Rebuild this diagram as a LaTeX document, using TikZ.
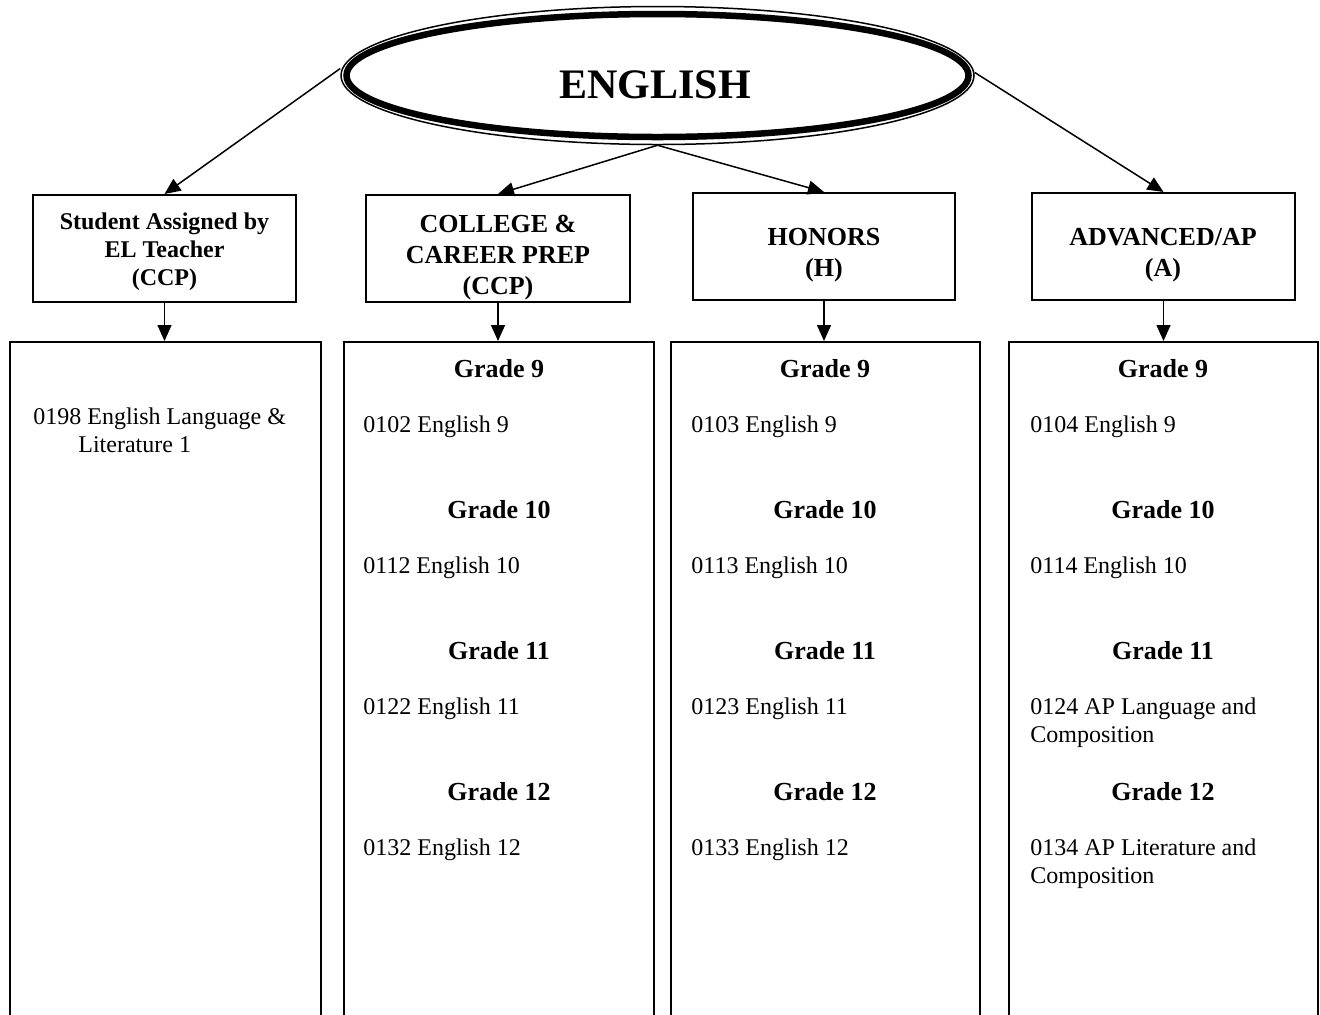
\documentclass[tikz,border=0pt]{standalone}
\usepackage{fontspec}
\setmainfont{Liberation Serif}
\usetikzlibrary{arrows.meta,shapes.geometric}

\begin{document}
\begin{tikzpicture}[x=0.5pt,y=0.5pt,yscale=-1,xscale=1,
  link/.style={line width=0.75pt,-{Triangle[length=8pt,width=7pt]}},
  trackbox/.style={draw,line width=1pt,rectangle,minimum width=131.5pt,minimum height=53.5pt,inner sep=0pt},
  coursecol/.style={draw,line width=1pt,rectangle,anchor=north,minimum height=350pt,inner sep=0pt},
  tracktext/.style={align=center,inner sep=0pt,font=\fontsize{13}{15.5}\selectfont\bfseries},
  gradetext/.style={anchor=base,inner sep=0pt,font=\fontsize{13}{15}\selectfont\bfseries},
  coursetext/.style={anchor=base west,align=left,inner sep=0pt,font=\fontsize{12}{14}\selectfont}]
\useasboundingbox (0,0) rectangle (1320,1014);

%Shape: Ellipse
\node [ellipse,draw,line width=3.25pt,minimum width=311pt,minimum height=61.5pt,inner sep=0pt] (english) at (657.5,75.5) {};
\node [ellipse,draw,line width=0.75pt,minimum width=316.5pt,minimum height=69pt,inner sep=0pt] (englishrim) at (657.5,75.5) {};
% Text Node
\node [inner sep=0pt,font=\fontsize{21}{25}\selectfont\bfseries] (englishlabel) at (655,85) {ENGLISH};

%Shape: Rectangle
\node [trackbox] (elbox) at (164.5,248.5) {};
\node [trackbox,minimum width=132pt] (ccpbox) at (498,248.5) {};
\node [trackbox,minimum width=131pt] (honbox) at (824,246.5) {};
\node [trackbox] (advbox) at (1163.5,246.5) {};

% Text Node
\node [tracktext,font=\fontsize{12}{14}\selectfont\bfseries] (ellabel) at (164.5,252) {Student Assigned by\\EL Teacher\\(CCP)};
\begin{scope}
\clip (ccpbox.south west) rectangle (ccpbox.north east);
\node [tracktext] (ccplabel) at (498,258) {COLLEGE \&\\CAREER PREP\\(CCP)};
\end{scope}
\node [tracktext] (honlabel) at (824,255.5) {HONORS\\(H)};
\node [tracktext] (advlabel) at (1163,255.5) {ADVANCED/AP\\(A)};

%Shape: Rectangle (open at the bottom of the page)
\node [coursecol,minimum width=155.5pt] (elcol) at (165.5,341) {};
\node [coursecol,minimum width=155pt] (ccpcol) at (499,341) {};
\node [coursecol,minimum width=154.5pt] (honcol) at (825.5,341) {};
\node [coursecol,minimum width=154.5pt] (advcol) at (1163.5,341) {};

%Straight Lines
\draw [link] ([yshift=-3.5pt]englishrim.west) -- (elbox.north);
\draw [link] (englishrim.south) -- (ccpbox.north);
\draw [link] (englishrim.south) -- (honbox.north);
\draw [link] ([yshift=-1.5pt]englishrim.east) -- (advbox.north);
\draw [link] (elbox.south) -- (elbox.south |- elcol.north);
\draw [link] (ccpbox.south) -- (ccpbox.south |- ccpcol.north);
\draw [link] (honbox.south) -- (honbox.south |- honcol.north);
\draw [link] (advbox.south) -- (advbox.south |- advcol.north);

% Text Node (base of a two-line node is its last line)
\node [coursetext] (el0198) at (33,452) {0198 English Language \&\\\hspace{22.5pt}Literature 1};

% Text Node
\node [gradetext] (ccpg9) at (499,377.5) {Grade 9};
\node [coursetext] (ccp0102) at (363,432) {0102 English 9};
\node [gradetext] (ccpg10) at (499,518.5) {Grade 10};
\node [coursetext] (ccp0112) at (363,573) {0112 English 10};
\node [gradetext] (ccpg11) at (499,659.5) {Grade 11};
\node [coursetext] (ccp0122) at (363,714) {0122 English 11};
\node [gradetext] (ccpg12) at (499,800.5) {Grade 12};
\node [coursetext] (ccp0132) at (363,855) {0132 English 12};

% Text Node
\node [gradetext] (hong9) at (825,377.5) {Grade 9};
\node [coursetext] (hon0103) at (691,432) {0103 English 9};
\node [gradetext] (hong10) at (825,518.5) {Grade 10};
\node [coursetext] (hon0113) at (691,573) {0113 English 10};
\node [gradetext] (hong11) at (825,659.5) {Grade 11};
\node [coursetext] (hon0123) at (691,714) {0123 English 11};
\node [gradetext] (hong12) at (825,800.5) {Grade 12};
\node [coursetext] (hon0133) at (691,855) {0133 English 12};

% Text Node
\node [gradetext] (advg9) at (1163,377.5) {Grade 9};
\node [coursetext] (adv0104) at (1030,432) {0104 English 9};
\node [gradetext] (advg10) at (1163,518.5) {Grade 10};
\node [coursetext] (adv0114) at (1030,573) {0114 English 10};
\node [gradetext] (advg11) at (1163,659.5) {Grade 11};
\node [coursetext] (adv0124) at (1030,742) {0124 AP Language and\\Composition};
\node [gradetext] (advg12) at (1163,800.5) {Grade 12};
\node [coursetext] (adv0134) at (1030,883) {0134 AP Literature and\\Composition};

\end{tikzpicture}
\end{document}
